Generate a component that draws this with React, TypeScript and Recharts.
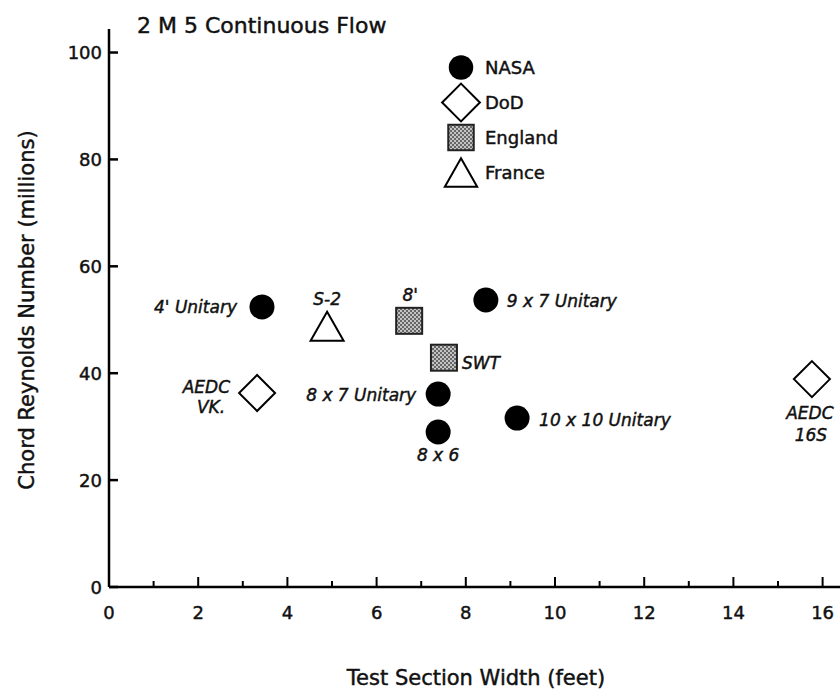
import { ScatterChart, Scatter, XAxis, YAxis, Legend } from "recharts";

const FONT = '"DejaVu Sans", sans-serif';
const INK = "#111";
const WEIGHT = 0.45; // the scanned text is a little heavier than DejaVu Book

// test section width (ft) vs chord Reynolds number (millions)
const nasaWidth = [3.43, 8.45, 7.38, 7.38, 9.15];
const nasaReynolds = [52.4, 53.7, 36.1, 29.0, 31.6];
const nasaNames = ["4' Unitary", "9 x 7 Unitary", "8 x 7 Unitary", "8 x 6", "10 x 10 Unitary"];

const dodWidth = [3.32, 15.76];
const dodReynolds = [36.3, 38.9];
const dodNames = ["AEDC VK.", "AEDC 16S"];

const englandWidth = [6.73, 7.51];
const englandReynolds = [49.8, 42.9];
const englandNames = ["8'", "SWT"];

const franceWidth = [4.89];
const franceReynolds = [48.8];
const franceNames = ["S-2"];

const xTicks = [0, 1, 2, 3, 4, 5, 6, 7, 8, 9, 10, 11, 12, 13, 14, 15, 16];
const yTicks = [0, 20, 40, 60, 80, 100];

const legendItems = [
  { name: "NASA", kind: "circle" },
  { name: "DoD", kind: "diamond" },
  { name: "England", kind: "square" },
  { name: "France", kind: "triangle" },
];

const toRows = (xs: number[], ys: number[], names: string[]) =>
  xs.map((x, i) => ({ x, y: ys[i], name: names[i] }));

// where each facility name sits relative to its marker: [text, dx, dy]
const labelSpots: Record<string, { anchor: "start" | "middle" | "end"; lines: [string, number, number][] }> = {
  "4' Unitary": { anchor: "end", lines: [["4' Unitary", -25, 0]] },
  "9 x 7 Unitary": { anchor: "start", lines: [["9 x 7 Unitary", 21, 1]] },
  "8 x 7 Unitary": { anchor: "end", lines: [["8 x 7 Unitary", -22, 1]] },
  "8 x 6": { anchor: "middle", lines: [["8 x 6", 0, 23]] },
  "10 x 10 Unitary": { anchor: "start", lines: [["10 x 10 Unitary", 22, 2]] },
  "AEDC VK.": { anchor: "end", lines: [["AEDC", -27, -6], ["VK.", -32, 14]] },
  "AEDC 16S": { anchor: "middle", lines: [["AEDC", -2, 34], ["16S", -1, 56]] },
  "8'": { anchor: "middle", lines: [["8'", 1, -26]] },
  SWT: { anchor: "start", lines: [["SWT", 18, 5]] },
  "S-2": { anchor: "middle", lines: [["S-2", 0, -27]] },
};

function Marker({ kind, cx, cy, scale = 1 }: { kind: string; cx: number; cy: number; scale?: number }) {
  const sw = 2;
  if (kind === "circle") return <circle cx={cx} cy={cy} r={12.5 * scale} fill="#000" />;
  if (kind === "diamond") {
    const h = 18 * scale;
    return (
      <polygon
        points={`${cx},${cy - h} ${cx + h},${cy} ${cx},${cy + h} ${cx - h},${cy}`}
        fill="#fff"
        stroke="#000"
        strokeWidth={sw}
      />
    );
  }
  if (kind === "square") {
    const s = 26 * scale;
    return <rect x={cx - s / 2} y={cy - s / 2} width={s} height={s} fill="url(#stipple)" stroke="#222" strokeWidth={sw} />;
  }
  const w = 16.5 * scale;
  const h = 14.5 * scale;
  return (
    <polygon
      points={`${cx},${cy - h} ${cx + w},${cy + h} ${cx - w},${cy + h}`}
      fill="#fff"
      stroke="#000"
      strokeWidth={sw}
      strokeLinejoin="miter"
    />
  );
}

const pointShape = (kind: string) => (p: any) => {
  const spot = labelSpots[p.payload?.name];
  return (
    <g>
      <Marker kind={kind} cx={p.cx} cy={p.cy} />
      {spot &&
        spot.lines.map(([t, dx, dy], i) => (
          <text
            key={i}
            x={p.cx + dx}
            y={p.cy + dy + 6}
            textAnchor={spot.anchor}
            fontFamily={FONT}
            fontStyle="italic"
            fontSize={17}
            fill={INK}
            stroke={INK}
            strokeWidth={WEIGHT}
          >
            {t}
          </text>
        ))}
    </g>
  );
};

function XTick({ x, y, payload }: any) {
  const v = payload.value;
  const major = v % 2 === 0;
  return (
    <g>
      <line x1={x} x2={x} y1={y} y2={y - (major ? 10 : 6)} stroke="#000" strokeWidth={2} />
      {major && (
        <text x={x} y={y + 32} textAnchor="middle" fontFamily={FONT} fontSize={18} fill={INK} stroke={INK} strokeWidth={WEIGHT}>
          {v}
        </text>
      )}
    </g>
  );
}

function YTick({ x, y, payload }: any) {
  return (
    <g>
      <line x1={x} x2={x + 9} y1={y} y2={y} stroke="#000" strokeWidth={2.5} />
      <text x={x - 7} y={y + 6.5} textAnchor="end" fontFamily={FONT} fontSize={18} fill={INK} stroke={INK} strokeWidth={WEIGHT}>
        {payload.value}
      </text>
    </g>
  );
}

function LegendBox() {
  return (
    <div style={{ fontFamily: FONT, fontSize: 18, color: INK, WebkitTextStroke: `${WEIGHT}px ${INK}` }}>
      {legendItems.map((it) => (
        <div key={it.name} style={{ display: "flex", alignItems: "center", height: 35 }}>
          <svg width={40} height={35} style={{ overflow: "visible" }}>
            <Marker kind={it.kind} cx={21} cy={17.5} scale={it.kind === "diamond" ? 1.05 : 0.98} />
          </svg>
          <span style={{ marginLeft: 5 }}>{it.name}</span>
        </div>
      ))}
    </div>
  );
}

export default function App() {
  return (
    <div style={{ position: "absolute", left: 0, top: 0, width: 840, height: 692, background: "#fff" }}>
      <svg width={0} height={0} style={{ position: "absolute" }}>
        <defs>
          <pattern id="stipple" width={4} height={4} patternUnits="userSpaceOnUse">
            <rect width={4} height={4} fill="#c4c4c4" />
            <rect width={2} height={2} fill="#666" />
            <rect x={2} y={2} width={2} height={2} fill="#666" />
          </pattern>
        </defs>
      </svg>
      <ScatterChart width={840} height={692} margin={{ top: 29, right: 0, bottom: 0, left: 0 }}>
        <XAxis
          type="number"
          dataKey="x"
          domain={[0, 16.39]}
          ticks={xTicks}
          interval={0}
          height={105}
          tickSize={0}
          tickMargin={0}
          tickLine={false}
          tick={<XTick />}
          axisLine={{ stroke: "#000", strokeWidth: 2.5 }}
        />
        <YAxis
          type="number"
          dataKey="y"
          domain={[0, 104.4]}
          ticks={yTicks}
          interval={0}
          width={109}
          tickSize={0}
          tickMargin={0}
          tickLine={false}
          tick={<YTick />}
          axisLine={{ stroke: "#000", strokeWidth: 2.5 }}
        />
        <Legend
          layout="vertical"
          align="center"
          verticalAlign="middle"
          wrapperStyle={{ left: 440, top: 50, width: 170 }}
          content={() => <LegendBox />}
        />
        <Scatter name="NASA" data={toRows(nasaWidth, nasaReynolds, nasaNames)} shape={pointShape("circle")} isAnimationActive={false} />
        <Scatter name="DoD" data={toRows(dodWidth, dodReynolds, dodNames)} shape={pointShape("diamond")} isAnimationActive={false} />
        <Scatter name="England" data={toRows(englandWidth, englandReynolds, englandNames)} shape={pointShape("square")} isAnimationActive={false} />
        <Scatter name="France" data={toRows(franceWidth, franceReynolds, franceNames)} shape={pointShape("triangle")} isAnimationActive={false} />
        <text x={137} y={33} fontFamily={FONT} fontSize={22} fill={INK} stroke={INK} strokeWidth={WEIGHT}>
          2 M 5 Continuous Flow
        </text>
        <text
          x={34}
          y={310}
          transform="rotate(-90 34 310)"
          textAnchor="middle"
          fontFamily={FONT}
          fontSize={21}
          fill={INK}
          stroke={INK}
          strokeWidth={WEIGHT}
        >
          Chord Reynolds Number (millions)
        </text>
        <text x={476} y={685} textAnchor="middle" fontFamily={FONT} fontSize={21} fill={INK} stroke={INK} strokeWidth={WEIGHT}>
          Test Section Width (feet)
        </text>
      </ScatterChart>
    </div>
  );
}
